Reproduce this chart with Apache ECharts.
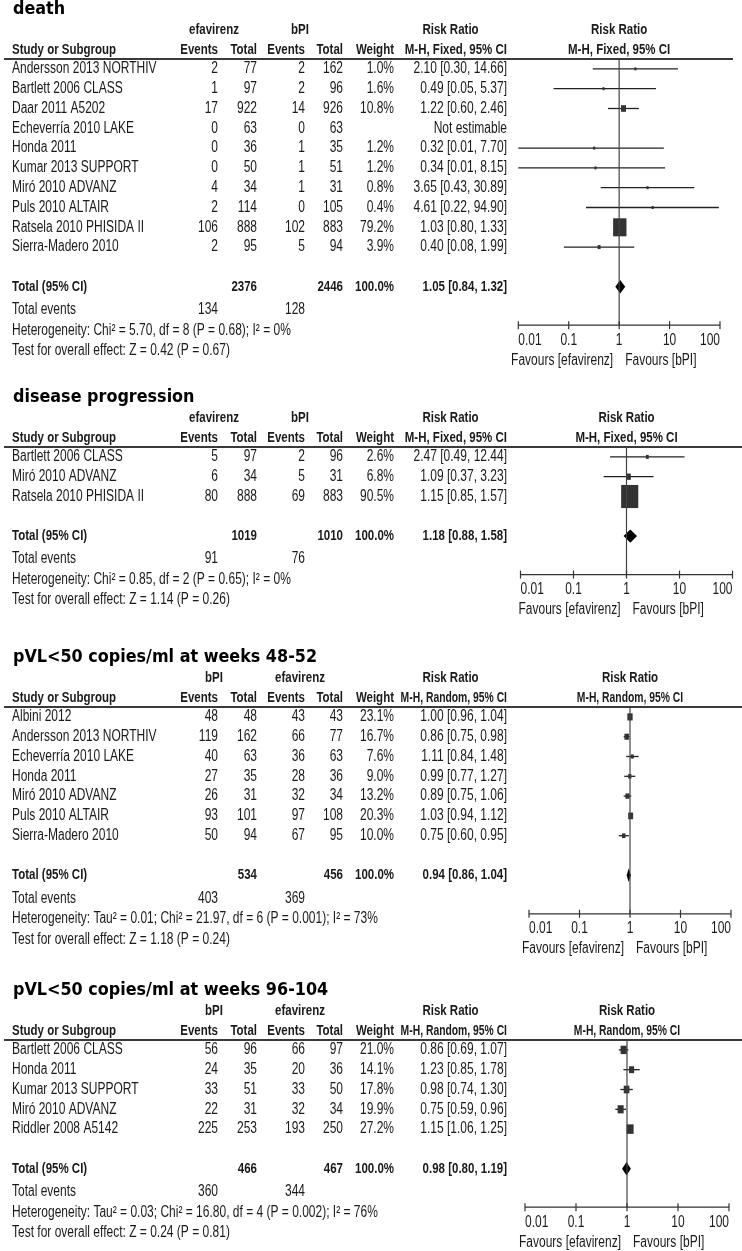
<!DOCTYPE html>
<html><head><meta charset="utf-8">
<script src="https://cdn.jsdelivr.net/npm/echarts@6/dist/echarts.min.js"></script>
<style>html,body{margin:0;padding:0;background:#fff}#c{width:742px;height:1251px}</style>
</head><body><div id="c"></div><script>
// ================= DATA =================
const tickValues = [0.01, 0.1, 1, 10, 100];
const tickLabels = ['0.01', '0.1', '1', '10', '100'];
const favoursLeft = 'Favours [efavirenz]';
const favoursRight = 'Favours [bPI]';

// --- death ---
const deathStudies = ['Andersson 2013 NORTHIV','Bartlett 2006 CLASS','Daar 2011 A5202','Echeverría 2010 LAKE','Honda 2011','Kumar 2013 SUPPORT','Miró 2010 ADVANZ','Puls 2010 ALTAIR','Ratsela 2010 PHISIDA II','Sierra-Madero 2010'];
const deathEvents1 = [2, 1, 17, 0, 0, 0, 4, 2, 106, 2];
const deathTotal1  = [77, 97, 922, 63, 36, 50, 34, 114, 888, 95];
const deathEvents2 = [2, 2, 14, 0, 1, 1, 1, 0, 102, 5];
const deathTotal2  = [162, 96, 926, 63, 35, 51, 31, 105, 883, 94];
const deathWeight  = [1.0, 1.6, 10.8, null, 1.2, 1.2, 0.8, 0.4, 79.2, 3.9];
const deathRR      = [2.10, 0.49, 1.22, null, 0.32, 0.34, 3.65, 4.61, 1.03, 0.40];
const deathLow     = [0.30, 0.05, 0.60, null, 0.01, 0.01, 0.43, 0.22, 0.80, 0.08];
const deathHigh    = [14.66, 5.37, 2.46, null, 7.70, 8.15, 30.89, 94.90, 1.33, 1.99];
const deathTotalN  = [2376, 2446];
const deathTotalEvents = [134, 128];
const deathTotalRR = [1.05, 0.84, 1.32];
const deathHet  = 'Heterogeneity: Chi² = 5.70, df = 8 (P = 0.68); I² = 0%';
const deathTest = 'Test for overall effect: Z = 0.42 (P = 0.67)';

// --- disease progression ---
const progStudies = ['Bartlett 2006 CLASS','Miró 2010 ADVANZ','Ratsela 2010 PHISIDA II'];
const progEvents1 = [5, 6, 80];
const progTotal1  = [97, 34, 888];
const progEvents2 = [2, 5, 69];
const progTotal2  = [96, 31, 883];
const progWeight  = [2.6, 6.8, 90.5];
const progRR      = [2.47, 1.09, 1.15];
const progLow     = [0.49, 0.37, 0.85];
const progHigh    = [12.44, 3.23, 1.57];
const progTotalN  = [1019, 1010];
const progTotalEvents = [91, 76];
const progTotalRR = [1.18, 0.88, 1.58];
const progHet  = 'Heterogeneity: Chi² = 0.85, df = 2 (P = 0.65); I² = 0%';
const progTest = 'Test for overall effect: Z = 1.14 (P = 0.26)';

// --- pVL<50 at weeks 48-52 ---
const w48Studies = ['Albini 2012','Andersson 2013 NORTHIV','Echeverría 2010 LAKE','Honda 2011','Miró 2010 ADVANZ','Puls 2010 ALTAIR','Sierra-Madero 2010'];
const w48Events1 = [48, 119, 40, 27, 26, 93, 50];
const w48Total1  = [48, 162, 63, 35, 31, 101, 94];
const w48Events2 = [43, 66, 36, 28, 32, 97, 67];
const w48Total2  = [43, 77, 63, 36, 34, 108, 95];
const w48Weight  = [23.1, 16.7, 7.6, 9.0, 13.2, 20.3, 10.0];
const w48RR      = [1.00, 0.86, 1.11, 0.99, 0.89, 1.03, 0.75];
const w48Low     = [0.96, 0.75, 0.84, 0.77, 0.75, 0.94, 0.60];
const w48High    = [1.04, 0.98, 1.48, 1.27, 1.06, 1.12, 0.95];
const w48TotalN  = [534, 456];
const w48TotalEvents = [403, 369];
const w48TotalRR = [0.94, 0.86, 1.04];
const w48Het  = 'Heterogeneity: Tau² = 0.01; Chi² = 21.97, df = 6 (P = 0.001); I² = 73%';
const w48Test = 'Test for overall effect: Z = 1.18 (P = 0.24)';

// --- pVL<50 at weeks 96-104 ---
const w96Studies = ['Bartlett 2006 CLASS','Honda 2011','Kumar 2013 SUPPORT','Miró 2010 ADVANZ','Riddler 2008 A5142'];
const w96Events1 = [56, 24, 33, 22, 225];
const w96Total1  = [96, 35, 51, 31, 253];
const w96Events2 = [66, 20, 33, 32, 193];
const w96Total2  = [97, 36, 50, 34, 250];
const w96Weight  = [21.0, 14.1, 17.8, 19.9, 27.2];
const w96RR      = [0.86, 1.23, 0.98, 0.75, 1.15];
const w96Low     = [0.69, 0.85, 0.74, 0.59, 1.06];
const w96High    = [1.07, 1.78, 1.30, 0.96, 1.25];
const w96TotalN  = [466, 467];
const w96TotalEvents = [360, 344];
const w96TotalRR = [0.98, 0.80, 1.19];
const w96Het  = 'Heterogeneity: Tau² = 0.03; Chi² = 16.80, df = 4 (P = 0.002); I² = 76%';
const w96Test = 'Test for overall effect: Z = 0.24 (P = 0.81)';

// ================= PANEL TABLE (built from the arrays) =================
const panels = [
  {title:'death', g1:'efavirenz', g2:'bPI', method:'M-H, Fixed, 95% CI',
   names:deathStudies, e1:deathEvents1, n1:deathTotal1, e2:deathEvents2, n2:deathTotal2, w:deathWeight,
   rr:deathRR, lo:deathLow, hi:deathHigh, totN:deathTotalN, totE:deathTotalEvents, totRR:deathTotalRR, het:deathHet, test:deathTest},
  {title:'disease progression', g1:'efavirenz', g2:'bPI', method:'M-H, Fixed, 95% CI',
   names:progStudies, e1:progEvents1, n1:progTotal1, e2:progEvents2, n2:progTotal2, w:progWeight,
   rr:progRR, lo:progLow, hi:progHigh, totN:progTotalN, totE:progTotalEvents, totRR:progTotalRR, het:progHet, test:progTest},
  {title:'pVL<50 copies/ml at weeks 48-52', g1:'bPI', g2:'efavirenz', method:'M-H, Random, 95% CI',
   names:w48Studies, e1:w48Events1, n1:w48Total1, e2:w48Events2, n2:w48Total2, w:w48Weight,
   rr:w48RR, lo:w48Low, hi:w48High, totN:w48TotalN, totE:w48TotalEvents, totRR:w48TotalRR, het:w48Het, test:w48Test},
  {title:'pVL<50 copies/ml at weeks 96-104', g1:'bPI', g2:'efavirenz', method:'M-H, Random, 95% CI',
   names:w96Studies, e1:w96Events1, n1:w96Total1, e2:w96Events2, n2:w96Total2, w:w96Weight,
   rr:w96RR, lo:w96Low, hi:w96High, totN:w96TotalN, totE:w96TotalEvents, totRR:w96TotalRR, het:w96Het, test:w96Test}
];

// ================= LAYOUT / STYLE =================
const ROW = 19.8;
const layout = [
  {T: 9,   x0: 518.3, x1: 720.0, lineEnd: 733, box: 1.5,  methodSX: 1},
  {T: 397, x0: 520.5, x1: 732.5, lineEnd: 742, box: 1.8,  methodSX: 1},
  {T: 657, x0: 529.0, x1: 731.0, lineEnd: 742, box: 1.1,  methodSX: 0.9},
  {T: 990, x0: 525.0, x1: 729.0, lineEnd: 742, box: 1.35, methodSX: 0.9}
];
const COL = {label: 12, ev1: 218, tot1: 257, ev2: 305, tot2: 343, weight: 394, ci: 507, g1: 214, g2: 300, rrHead: 450.5};
const FONT = '"Liberation Sans", Arial, sans-serif';
const TITLE_FONT = '"DejaVu Sans", Verdana, sans-serif';
const SY = 1.3;
const TXT = '#1a1a1a';

function fmtRR(r, l, h) {
  return r == null ? 'Not estimable' : r.toFixed(2) + ' [' + l.toFixed(2) + ', ' + h.toFixed(2) + ']';
}
function txt(x, y, s, align, bold, sx) {
  return {
    type: 'text', x: x, y: y, scaleY: SY, scaleX: sx || 1, silent: true,
    style: {text: String(s), x: 0, y: 0, fill: TXT, fontSize: bold ? 11.5 : 12, fontFamily: FONT,
            fontWeight: bold ? 'bold' : 'normal', align: align || 'left', verticalAlign: 'middle'}
  };
}

const grids = [], xAxes = [], yAxes = [], series = [];

panels.forEach((p, pi) => {
  const L = layout[pi];
  const n = p.names.length;
  const yTotal = n + 1.5;
  const yAxisLine = yTotal + 38.5 / ROW;
  grids.push({left: L.x0, width: L.x1 - L.x0, top: L.T + 50, height: yAxisLine * ROW});
  xAxes.push({gridIndex: pi, type: 'log', logBase: 10, min: tickValues[0], max: tickValues[tickValues.length - 1], show: false});
  yAxes.push({gridIndex: pi, type: 'value', min: 0, max: yAxisLine, inverse: true, show: false});

  // ---- table rows (text) ----
  const rows = [];
  rows.push({y: -50 / ROW, title: p.title});
  rows.push({y: -29.5 / ROW, cells: [[COL.g1, p.g1, 'center', 1], [COL.g2, p.g2, 'center', 1], [COL.rrHead, 'Risk Ratio', 'center', 1], ['forest', 'Risk Ratio', 'center', 1]]});
  rows.push({y: -9 / ROW, cells: [[COL.label, 'Study or Subgroup', 'left', 1], [COL.ev1, 'Events', 'right', 1], [COL.tot1, 'Total', 'right', 1],
    [COL.ev2, 'Events', 'right', 1], [COL.tot2, 'Total', 'right', 1], [COL.weight, 'Weight', 'right', 1],
    [COL.ci, p.method, 'right', 1, L.methodSX], ['forest', p.method, 'center', 1, L.methodSX]]});
  rows.push({y: 0, line: true});
  p.names.forEach((nm, i) => {
    rows.push({y: 0.5 + i, cells: [[COL.label, nm, 'left'], [COL.ev1, p.e1[i], 'right'], [COL.tot1, p.n1[i], 'right'],
      [COL.ev2, p.e2[i], 'right'], [COL.tot2, p.n2[i], 'right'],
      [COL.weight, p.w[i] == null ? '' : p.w[i].toFixed(1) + '%', 'right'],
      [COL.ci, fmtRR(p.rr[i], p.lo[i], p.hi[i]), 'right']]});
  });
  rows.push({y: yTotal, cells: [[COL.label, 'Total (95% CI)', 'left', 1], [COL.tot1, p.totN[0], 'right', 1], [COL.tot2, p.totN[1], 'right', 1],
    [COL.weight, '100.0%', 'right', 1], [COL.ci, fmtRR(p.totRR[0], p.totRR[1], p.totRR[2]), 'right', 1]]});
  rows.push({y: yTotal + 23 / ROW, cells: [[COL.label, 'Total events', 'left'], [COL.ev1, p.totE[0], 'right'], [COL.ev2, p.totE[1], 'right']]});
  rows.push({y: yTotal + 43.5 / ROW, cells: [[COL.label, p.het, 'left']]});
  rows.push({y: yTotal + 64 / ROW, cells: [[COL.label, p.test, 'left']]});

  series.push({
    type: 'custom', xAxisIndex: pi, yAxisIndex: pi, clip: false, silent: true, animation: false,
    data: rows.map((r, i) => [1, r.y, i]),
    renderItem: function (params, api) {
      const r = rows[api.value(2)];
      const py = api.coord([1, api.value(1)])[1];
      const xNull = api.coord([1, 0])[0];
      if (r.title) {
        return {type: 'text', x: 13, y: py, scaleY: 1.12, silent: true,
          style: {text: r.title, x: 0, y: 0, fill: '#000', fontSize: 16, fontWeight: 'bold', fontFamily: TITLE_FONT, align: 'left', verticalAlign: 'middle'}};
      }
      if (r.line) {
        return {type: 'line', silent: true, shape: {x1: 4, y1: py, x2: L.lineEnd, y2: py}, style: {stroke: '#3a3a3a', lineWidth: 2}};
      }
      return {type: 'group', children: r.cells.map(c => txt(c[0] === 'forest' ? xNull : c[0], py, c[1], c[2], c[3], c[4]))};
    }
  });

  // ---- study CI lines + weight boxes ----
  const studyData = [];
  p.names.forEach((nm, i) => { if (p.rr[i] != null) studyData.push([p.rr[i], p.lo[i], p.hi[i], 0.5 + i, p.w[i]]); });
  series.push({
    type: 'custom', xAxisIndex: pi, yAxisIndex: pi, clip: false, silent: true, animation: false,
    data: studyData,
    renderItem: function (params, api) {
      const y = api.value(3);
      const a = api.coord([api.value(1), y]);
      const b = api.coord([api.value(2), y]);
      const c = api.coord([api.value(0), y]);
      const w = Math.max(2.2, L.box * Math.sqrt(api.value(4)));
      const h = w * 1.35;
      return {type: 'group', children: [
        {type: 'line', shape: {x1: a[0], y1: a[1], x2: b[0], y2: b[1]}, style: {stroke: '#222', lineWidth: 1.3}},
        {type: 'rect', shape: {x: c[0] - w / 2, y: c[1] - h / 2, width: w, height: h}, style: {fill: '#333'}}
      ]};
    }
  });

  // ---- pooled diamond ----
  series.push({
    type: 'custom', xAxisIndex: pi, yAxisIndex: pi, clip: false, silent: true, animation: false,
    data: [[p.totRR[0], p.totRR[1], p.totRR[2], yTotal]],
    renderItem: function (params, api) {
      const y = api.value(3);
      const c = api.coord([api.value(0), y]);
      const a = api.coord([api.value(1), y]);
      const b = api.coord([api.value(2), y]);
      const hh = 6.7;
      return {type: 'polygon', shape: {points: [[a[0], c[1]], [c[0], c[1] - hh], [b[0], c[1]], [c[0], c[1] + hh]]}, style: {fill: '#000'}};
    }
  });

  // ---- null line, x axis, ticks, labels ----
  series.push({
    type: 'custom', xAxisIndex: pi, yAxisIndex: pi, clip: false, silent: true, animation: false,
    data: [[1, yAxisLine]],
    renderItem: function (params, api) {
      const yA = api.value(1);
      const top = api.coord([1, 0]);
      const bot = api.coord([1, yA]);
      const left = api.coord([tickValues[0], yA]);
      const right = api.coord([tickValues[tickValues.length - 1], yA]);
      const ch = [
        {type: 'line', shape: {x1: top[0], y1: top[1], x2: bot[0], y2: bot[1]}, style: {stroke: '#444', lineWidth: 1.2}},
        {type: 'line', shape: {x1: left[0], y1: left[1], x2: right[0], y2: right[1]}, style: {stroke: '#333', lineWidth: 1.3}}
      ];
      const ly = api.coord([1, yA + 15 / ROW])[1];
      const fy = api.coord([1, yA + 35 / ROW])[1];
      tickValues.forEach((t, k) => {
        const pt = api.coord([t, yA]);
        ch.push({type: 'line', shape: {x1: pt[0], y1: pt[1] - 4, x2: pt[0], y2: pt[1] + 4}, style: {stroke: '#333', lineWidth: 1.2}});
        const al = k === 0 ? 'left' : (k === tickValues.length - 1 ? 'right' : 'center');
        ch.push(txt(pt[0], ly, tickLabels[k], al, false));
      });
      ch.push(txt(bot[0] - 6, fy, favoursLeft, 'right', false));
      ch.push(txt(bot[0] + 6, fy, favoursRight, 'left', false));
      return {type: 'group', children: ch};
    }
  });
});

const chart = echarts.init(document.getElementById('c'), null, {renderer: 'canvas'});
chart.setOption({
  animation: false,
  backgroundColor: '#fff',
  grid: grids, xAxis: xAxes, yAxis: yAxes, series: series
});
</script></body></html>
